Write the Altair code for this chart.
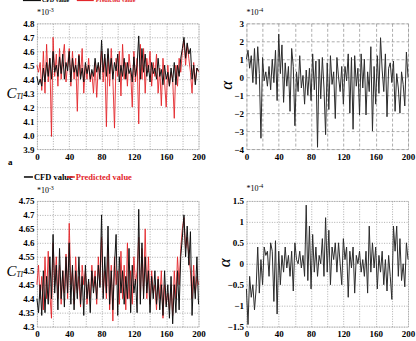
import altair as alt
import pandas as pd

# sample index (every second step of the 0-200 record)
steps = list(range(0, 201, 2))

# case (a): thrust coefficient, x1e-3
cti_a_cfd = [4.42, 4.36, 4.40, 4.35, 4.48, 4.38, 4.52, 4.42, 4.55, 4.40,
             4.60, 4.45, 4.50, 4.42, 4.56, 4.44, 4.58, 4.40, 4.52, 4.46,
             4.60, 4.38, 4.55, 4.45, 4.50, 4.42, 4.57, 4.40, 4.48, 4.38,
             4.52, 4.44, 4.50, 4.40, 4.47, 4.42, 4.55, 4.45, 4.52, 4.40,
             4.68, 4.45, 4.58, 4.42, 4.62, 4.44, 4.55, 4.40, 4.52, 4.46,
             4.58, 4.38, 4.50, 4.42, 4.55, 4.40, 4.52, 4.44, 4.48, 4.38,
             4.56, 4.42, 4.50, 4.71, 4.40, 4.62, 4.45, 4.58, 4.42, 4.50,
             4.38, 4.52, 4.44, 4.48, 4.40, 4.55, 4.42, 4.47, 4.36, 4.50,
             4.40, 4.45, 4.35, 4.48, 4.38, 4.52, 4.36, 4.50, 4.42, 4.55,
             4.62, 4.70, 4.55, 4.66, 4.58, 4.62, 4.40, 4.50, 4.36, 4.48,
             4.46]
cti_a_pred = [4.50, 4.45, 4.52, 4.32, 4.60, 4.30, 4.65, 4.38, 4.55, 3.99,
              4.70, 4.42, 4.58, 4.35, 4.62, 4.40, 4.55, 4.65, 4.38, 4.50,
              4.62, 4.35, 4.60, 4.40, 4.55, 4.17, 4.58, 4.42, 4.62, 4.30,
              4.50, 4.40, 4.55, 4.38, 4.45, 4.30, 4.52, 4.27, 4.50, 4.45,
              4.60, 4.38, 4.55, 4.06, 4.58, 4.35, 4.62, 4.40, 4.05, 4.55,
              4.42, 4.60, 4.28, 4.65, 4.40, 4.52, 4.35, 4.58, 4.45, 4.20,
              4.60, 4.38, 4.55, 4.08, 4.65, 4.40, 4.62, 4.30, 4.55, 4.45,
              4.60, 4.35, 4.52, 4.42, 4.58, 4.30, 4.48, 4.21, 4.55, 4.38,
              4.20, 4.50, 4.35, 4.45, 4.40, 4.12, 4.50, 4.35, 4.55, 4.45,
              4.60, 4.68, 4.50, 4.65, 4.55, 4.45, 4.30, 4.52, 4.38, 4.48,
              4.45]
# case (a): attack angle, x1e-4
alpha_a = [1.0, 1.5, 0.5, 1.2, -0.3, 1.6, -0.4, 1.7, 0.2, -3.4,
           1.1, -0.2, 0.3, -0.5, 0.6, -0.7, 1.0, -0.3, 1.5, -1.3,
           2.4, 0.2, 1.8, -1.4, 0.8, -0.5, 0.6, -1.9, 1.6, 0.6,
           -2.7, 0.3, -0.8, 1.2, -0.6, 0.1, -1.5, 0.4, -1.0, 0.5,
           -1.3, 1.3, -0.7, 0.9, -3.9, 1.0, -1.2, 1.1, -0.6, -3.2,
           0.8, -1.8, 1.2, -0.4, 0.3, -2.3, 1.1, 0.0, -0.8, 0.6,
           -1.5, 0.6, -0.2, 1.3, -2.0, 1.1, -2.9, 1.2, -0.5, 0.5,
           -2.1, 1.3, -0.6, 1.0, -2.1, 0.3, -0.8, 1.7, -3.0, 0.6,
           -1.5, 1.2, -0.9, 2.2, 0.4, -0.8, 1.3, -2.2, 0.5, 0.8,
           -0.3, 0.9, -1.9, 0.2, -0.6, -2.0, 0.3, -0.4, -1.6, 1.4,
           0.0]

# case (b): thrust coefficient, x1e-3
cti_b_cfd = [4.40, 4.35, 4.45, 4.34, 4.50, 4.35, 4.48, 4.38, 4.55, 4.40,
             4.63, 4.42, 4.52, 4.36, 4.58, 4.40, 4.50, 4.37, 4.55, 4.42,
             4.60, 4.38, 4.52, 4.36, 4.50, 4.40, 4.55, 4.38, 4.48, 4.34,
             4.52, 4.40, 4.47, 4.35, 4.50, 4.42, 4.48, 4.40, 4.52, 4.44,
             4.70, 4.40, 4.55, 4.42, 4.66, 4.38, 4.50, 4.36, 4.52, 4.63,
             4.34, 4.55, 4.42, 4.50, 4.38, 4.48, 4.40, 4.58, 4.35, 4.52,
             4.42, 4.47, 4.35, 4.72, 4.38, 4.60, 4.40, 4.55, 4.42, 4.50,
             4.35, 4.48, 4.40, 4.50, 4.38, 4.47, 4.36, 4.45, 4.34, 4.50,
             4.37, 4.45, 4.33, 4.48, 4.31, 4.45, 4.35, 4.50, 4.36, 4.55,
             4.62, 4.70, 4.55, 4.66, 4.52, 4.64, 4.34, 4.48, 4.40, 4.55,
             4.38]
cti_b_pred = [4.45, 4.52, 4.40, 4.48, 4.36, 4.55, 4.40, 4.57, 4.42, 4.33,
              4.60, 4.45, 4.55, 4.40, 4.52, 4.38, 4.50, 4.42, 4.56, 4.40,
              4.67, 4.45, 4.50, 4.38, 4.55, 4.42, 4.48, 4.37, 4.52, 4.45,
              4.50, 4.38, 4.46, 4.40, 4.52, 4.44, 4.50, 4.38, 4.55, 4.45,
              4.62, 4.42, 4.50, 4.40, 4.58, 4.36, 4.52, 4.32, 4.55, 4.45,
              4.50, 4.38, 4.57, 4.40, 4.52, 4.36, 4.60, 4.40, 4.50, 4.38,
              4.55, 4.45, 4.50, 4.62, 4.40, 4.58, 4.42, 4.65, 4.40, 4.55,
              4.38, 4.50, 4.42, 4.45, 4.36, 4.48, 4.40, 4.50, 4.33, 4.45,
              4.38, 4.42, 4.36, 4.45, 4.34, 4.50, 4.40, 4.55, 4.45, 4.58,
              4.65, 4.69, 4.58, 4.62, 4.55, 4.50, 4.40, 4.52, 4.42, 4.48,
              4.45]
# case (b): attack angle, x1e-4
alpha_b = [-0.6, -1.45, -0.3, -0.8, -0.5, -1.1, -0.6, 0.4, -0.7, 0.1,
           -0.5, 0.4, 0.2, 0.3, -0.3, 0.5, 0.3, -0.9, 0.55, -1.2,
           0.3, -0.5, 0.2, -0.2, 0.4, -0.1, 0.2, -0.3, 0.3, -0.65,
           0.5, 0.1, 0.0, 0.3, -0.1, 0.2, -0.3, 1.4, -0.4, 0.9,
           -0.6, 0.7, -0.2, 0.4, -0.3, 0.2, 0.0, 0.6, -0.3, 1.1,
           -0.2, 0.8, -0.5, 0.4, 0.1, 0.5, -0.2, 0.5, 0.0, -0.5,
           0.6, 0.1, 0.4, -0.8, 0.3, -0.1, 0.4, -0.7, 0.2, 0.0,
           0.3, -0.2, 0.1, -0.3, 0.3, -0.7, 0.9, -0.2, 0.5, -0.1,
           0.4, -0.6, 0.2, -0.2, 0.3, -0.5, 0.1, -0.65, 0.2, -0.3,
           -0.85, 0.9, 0.3, 0.9, -0.3, 0.6, -0.4, 0.0, -0.55, 0.5,
           0.1]

x_ticks = list(range(0, 201, 20))
y_ticks_cti_a = [3.9, 4.0, 4.1, 4.2, 4.3, 4.4, 4.5, 4.6, 4.7, 4.8]
y_ticks_alpha_a = [-4, -3, -2, -1, 0, 1, 2, 3]
y_ticks_cti_b = [4.3, 4.35, 4.4, 4.45, 4.5, 4.55, 4.6, 4.65, 4.7, 4.75]
y_ticks_alpha_b = [-1.5, -1, -0.5, 0, 0.5, 1, 1.5]

FONT = "Liberation Serif"
W, H = 162, 126
RED = "#e3262b"
BLACK = "#111111"
one = pd.DataFrame({"k": [0]})


def text(label, x, y, size=8, align="left", style="normal", weight="bold",
         angle=0, color="black"):
    kw = dict(text=label, font=FONT, fontSize=size, align=align,
              baseline="middle", fontStyle=style, fontWeight=weight, color=color)
    if angle:
        kw["angle"] = angle
    return alt.Chart(one).mark_text(**kw).encode(x=alt.value(x), y=alt.value(y))


def rule(x1, x2, y, color, width=1.6):
    return alt.Chart(one).mark_rule(color=color, strokeWidth=width).encode(
        x=alt.value(x1), x2=alt.value(x2), y=alt.value(y))


def encodings(y_ticks, y_fmt, dash):
    ax = dict(grid=True, gridDash=dash, gridColor="#8a8a8a", gridWidth=0.7,
              ticks=False, domain=False, title=None, labelFont=FONT,
              labelFontWeight="bold", labelFontSize=9, labelColor="black")
    x = alt.X("x:Q", scale=alt.Scale(domain=[0, 200], nice=False, zero=False),
              axis=alt.Axis(values=x_ticks, labelPadding=3, labelFlush=False,
                            labelExpr="datum.value % 40 === 0 ? datum.label : ''",
                            **ax))
    y = alt.Y("y:Q", scale=alt.Scale(domain=[y_ticks[0], y_ticks[-1]], nice=False,
                                     zero=False),
              axis=alt.Axis(values=y_ticks, format=y_fmt, labelPadding=3,
                            labelFlush=False, **ax))
    return x, y


def series(values, color, x, y, width=1.0):
    df = pd.DataFrame({"x": steps, "y": values})
    return alt.Chart(df).mark_line(color=color, strokeWidth=width).encode(x=x, y=y)


def legend_top(y0):
    # compact legend above the first pair of panels
    return [rule(-14, 4, y0, BLACK, 1.4), text("CFD value", 5, y0, size=6),
            rule(40, 57, y0, RED, 1.4), text("Predicted value", 59, y0, size=6,
                                             color=RED)]


def legend_bottom(y0):
    return [rule(-13, -4, y0, BLACK), text("CFD value", -3, y0, size=8.5),
            rule(30, 38, y0, RED), text("Predicted value", 39, y0, size=8.5,
                                        color=RED)]


def cti_panel(cfd, pred, y_ticks, y_fmt, legend_layers, exp_y, extra=()):
    x, y = encodings(y_ticks, y_fmt, [1, 1.5])
    layers = [series(pred, RED, x, y, 0.9), series(cfd, BLACK, x, y, 1.0)]
    layers += legend_layers
    layers += [text("*10", 0, exp_y, size=8, weight="normal"),
               text("-3", 12, exp_y - 3, size=6, weight="normal"),
               text("C", -25.5, 70, size=15, style="italic", weight="normal",
                    align="center"),
               text("TI", -20.5, 74, size=7.5, style="italic", weight="normal")]
    layers += list(extra)
    return alt.layer(*layers).properties(width=W, height=H)


def alpha_panel(values, y_ticks, y_fmt, dash, exp_y, title_x):
    x, y = encodings(y_ticks, y_fmt, dash)
    layers = [series(values, "#2b2b2b", x, y, width=1.0),
              text("*10", 0, exp_y, size=8, weight="normal"),
              text("-4", 12, exp_y - 3, size=6, weight="normal"),
              text("α", title_x, 62, size=17, style="italic", weight="normal",
                   align="center", angle=270)]
    return alt.layer(*layers).properties(width=W, height=H)


top_left = cti_panel(cti_a_cfd, cti_a_pred, y_ticks_cti_a, ".1f",
                     legend_top(-23), -10,
                     extra=[text("a", -29, 139, size=9)])
top_right = alpha_panel(alpha_a, y_ticks_alpha_a, "d", [3, 2], -10, -19)
bottom_left = cti_panel(cti_b_cfd, cti_b_pred, y_ticks_cti_b, "~g",
                        legend_bottom(-24), -10)
bottom_right = alpha_panel(alpha_b, y_ticks_alpha_b, "~g", [1, 1.5], -12, -21)

chart = alt.concat(
    top_left, top_right, bottom_left, bottom_right,
    columns=2,
    spacing={"row": 52, "column": 48},
    bounds="flush",
).properties(
    padding={"left": 5, "top": -4, "right": 0, "bottom": 0},
).configure_view(
    stroke="#8c8c8c", strokeWidth=1
).configure(background="white")

chart.save("out.html", embed_options={"renderer": "svg", "actions": False})
